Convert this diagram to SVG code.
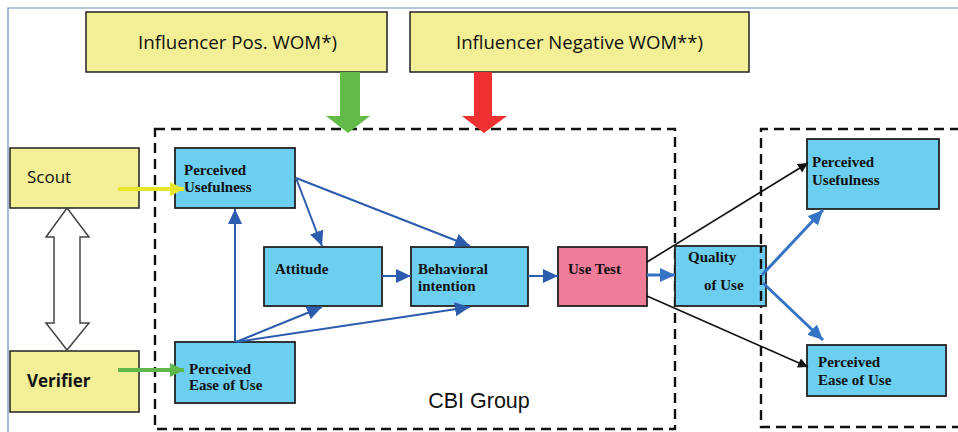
<svg xmlns="http://www.w3.org/2000/svg" width="958" height="432" viewBox="0 0 958 432">
  <style>
    .frame { fill: none; stroke: #6a8db5; stroke-width: 1.2; }
    .group { fill: none; stroke: #111; stroke-width: 2.4; stroke-dasharray: 10 6; }
    .yellow { fill: #f2ef96; stroke: #222; stroke-width: 1.5; }
    .blue { fill: #6dcff0; stroke: #222; stroke-width: 1.8; }
    .pink { fill: #f07c9a; stroke: #222; stroke-width: 1.8; }
    .sans { font-family: "Open Sans", "Liberation Sans", sans-serif; fill: #111; }
    .serif { font-family: "Liberation Serif", "Times New Roman", serif; font-weight: bold; font-size: 15px; fill: #111; }
    .link { fill: none; stroke: #2b5cad; stroke-width: 2; }
    .link-thick { fill: none; stroke: #3574c4; stroke-width: 3; }
    .link-black { fill: none; stroke: #111; stroke-width: 1.6; }
  </style>
  <defs>
    <marker id="headBlue" markerUnits="userSpaceOnUse" markerWidth="15" markerHeight="14" refX="15" refY="7" orient="auto">
      <path d="M0,0 L15,7 L0,14 z" fill="#2b5cad"/>
    </marker>
    <marker id="headBlueLight" markerUnits="userSpaceOnUse" markerWidth="15" markerHeight="14" refX="15" refY="7" orient="auto">
      <path d="M0,0 L15,7 L0,14 z" fill="#3574c4"/>
    </marker>
    <marker id="headBlack" markerUnits="userSpaceOnUse" markerWidth="10" markerHeight="10" refX="10" refY="5" orient="auto">
      <path d="M0,0 L10,5 L0,10 z" fill="#111"/>
    </marker>
    <marker id="headYellow" markerUnits="userSpaceOnUse" markerWidth="14" markerHeight="14" refX="14" refY="7" orient="auto">
      <path d="M0,0 L14,7 L0,14 z" fill="#e6e62a"/>
    </marker>
    <marker id="headGreen" markerUnits="userSpaceOnUse" markerWidth="14" markerHeight="14" refX="14" refY="7" orient="auto">
      <path d="M0,0 L14,7 L0,14 z" fill="#5fb84a"/>
    </marker>
  </defs>

  <rect width="958" height="432" fill="#fff"/>
  <!-- outer frame -->
  <path class="frame" d="M8,432 L8,8 L958,8"/>

  <!-- group frames -->
  <rect class="group" x="155" y="129" width="520" height="300"/>
  <path class="group" d="M960,129 L761,129 L761,427 L960,427"/>

  <!-- influencers -->
  <g id="influencer-pos">
    <rect class="yellow" x="86" y="12" width="301" height="60"/>
    <text class="sans" x="138" y="49" font-size="18.5" textLength="199" lengthAdjust="spacingAndGlyphs">Influencer Pos. WOM*)</text>
  </g>
  <g id="influencer-neg">
    <rect class="yellow" x="410" y="12" width="339" height="60"/>
    <text class="sans" x="456" y="49" font-size="18.5" textLength="247" lengthAdjust="spacingAndGlyphs">Influencer Negative WOM**)</text>
  </g>

  <!-- influence arrows -->
  <g id="influence-arrows">
    <polygon points="340,72 360,72 360,116 370,116 348,133 326,116 340,116" fill="#62bb46"/>
    <polygon points="474,72 492,72 492,116 507,116 484,133 462,116 474,116" fill="#ee3030"/>
  </g>

  <!-- roles -->
  <g id="scout">
    <rect class="yellow" x="10" y="148" width="129" height="60"/>
    <text class="sans" x="27" y="183" font-size="17">Scout</text>
  </g>
  <g id="verifier">
    <rect class="yellow" x="10" y="351" width="129" height="61"/>
    <text class="sans" x="27" y="387" font-size="17" font-weight="bold">Verifier</text>
  </g>
  <g id="role-exchange">
    <polygon points="67,208 89,237 80,237 80,323 89,323 67,350 46,323 54,323 54,237 46,237" fill="#fff" stroke="#444" stroke-width="1.5"/>
  </g>

  <!-- model nodes -->
  <g id="perceived-usefulness">
    <rect class="blue" x="175" y="148" width="120" height="60"/>
    <text class="serif" x="184" y="175">Perceived</text>
    <text class="serif" x="184" y="192">Usefulness</text>
  </g>
  <g id="perceived-ease">
    <rect class="blue" x="175" y="342" width="120" height="61"/>
    <text class="serif" x="189" y="374">Perceived</text>
    <text class="serif" x="189" y="390">Ease of Use</text>
  </g>
  <g id="attitude">
    <rect class="blue" x="264" y="247" width="118" height="59"/>
    <text class="serif" x="275" y="274">Attitude</text>
  </g>
  <g id="behavioral-intention">
    <rect class="blue" x="411" y="247" width="117" height="59"/>
    <text class="serif" x="418" y="274">Behavioral</text>
    <text class="serif" x="418" y="291">intention</text>
  </g>
  <g id="use-test">
    <rect class="pink" x="558" y="247" width="89" height="59"/>
    <text class="serif" x="568" y="274">Use Test</text>
  </g>
  <g id="quality-of-use">
    <rect class="blue" x="675" y="246" width="91" height="60"/>
    <text class="serif" x="688" y="262">Quality</text>
    <text class="serif" x="704" y="290">of Use</text>
  </g>
  <g id="perceived-usefulness-after">
    <rect class="blue" x="807" y="139" width="132" height="70"/>
    <text class="serif" x="812" y="167">Perceived</text>
    <text class="serif" x="812" y="185">Usefulness</text>
  </g>
  <g id="perceived-ease-after">
    <rect class="blue" x="807" y="345" width="139" height="51"/>
    <text class="serif" x="818" y="367">Perceived</text>
    <text class="serif" x="818" y="385">Ease of Use</text>
  </g>

  <!-- dashed edge crossing the quality node -->
  <line class="group" x1="761" y1="246" x2="761" y2="306" stroke-dashoffset="3"/>

  <text x="479" y="408" font-size="21.5" text-anchor="middle" fill="#111" font-family="'Liberation Sans', Arial, sans-serif">CBI Group</text>

  <!-- connectors -->
  <g id="connectors">
    <line x1="118" y1="189" x2="184" y2="189" stroke="#e6e62a" stroke-width="4" marker-end="url(#headYellow)"/>
    <line x1="118" y1="370" x2="184" y2="370" stroke="#5fb84a" stroke-width="4" marker-end="url(#headGreen)"/>
    <line class="link" x1="235" y1="342" x2="235" y2="209" marker-end="url(#headBlue)"/>
    <line class="link" x1="296" y1="178" x2="322" y2="246" marker-end="url(#headBlue)"/>
    <line class="link" x1="296" y1="178" x2="470" y2="246" marker-end="url(#headBlue)"/>
    <line class="link" x1="236" y1="342" x2="322" y2="307" marker-end="url(#headBlue)"/>
    <line class="link" x1="236" y1="342" x2="470" y2="307" marker-end="url(#headBlue)"/>
    <line class="link" x1="382" y1="276" x2="411" y2="276" marker-end="url(#headBlue)"/>
    <line class="link" x1="528" y1="276" x2="558" y2="276" marker-end="url(#headBlue)"/>
    <line class="link-thick" x1="647" y1="275" x2="675" y2="275" marker-end="url(#headBlueLight)"/>
    <line class="link-black" x1="647" y1="262" x2="808" y2="163" marker-end="url(#headBlack)"/>
    <line class="link-black" x1="647" y1="296" x2="808" y2="367" marker-end="url(#headBlack)"/>
    <line class="link-thick" x1="762" y1="275" x2="823" y2="210" marker-end="url(#headBlueLight)"/>
    <line class="link-thick" x1="763" y1="283" x2="823" y2="340" marker-end="url(#headBlueLight)"/>
  </g>
</svg>
